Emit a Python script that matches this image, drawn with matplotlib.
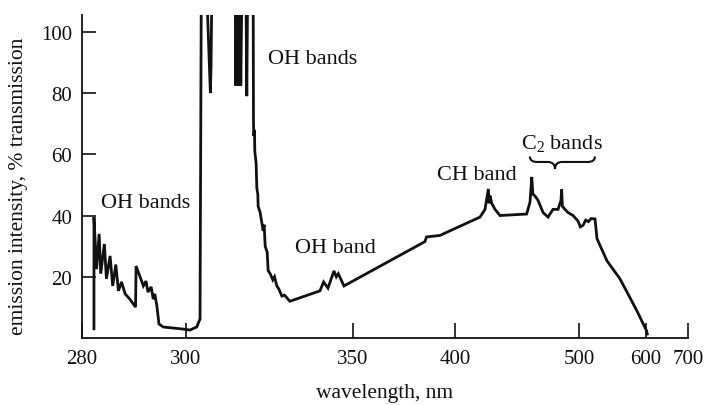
import numpy as np
import matplotlib
matplotlib.use("Agg")
import matplotlib.pyplot as plt
from matplotlib.path import Path
from matplotlib.patches import PathPatch

plt.rcParams['font.family'] = ['Liberation Serif', 'DejaVu Serif']
plt.rcParams['mathtext.fontset'] = 'custom'
plt.rcParams['mathtext.rm'] = 'Liberation Serif'
plt.rcParams['mathtext.it'] = 'Liberation Serif:italic'
plt.rcParams['mathtext.default'] = 'regular'

# ---- axis definition (non-linear wavelength axis of the original figure) ----
tick_nm = [280, 300, 350, 400, 500, 600, 700]
tick_labels = ['280', '300', '350', '400', '500', '600', '700']
axis_pos = [0, 104, 271, 373, 497, 564, 606]   # relative positions of the breakpoints
y_ticks = [20, 40, 60, 80, 100]
y_tick_labels = ['20', '40', '60', '80', '100']

# ---- spectrum trace (wavelength in nm, emission intensity / % transmission) ----
wavelength = [282.3, 282.3, 282.8, 283.3, 283.6, 284.3, 284.7, 285.4, 285.9, 286.5,
              287.0, 287.6, 288.3, 289.2, 290.3, 290.4, 291.1, 291.8, 292.3, 292.7,
              293.3, 293.7, 294.0, 294.4, 294.8, 295.6, 299.5, 301.2, 303.2, 304.2,
              304.6, 306.0, 307.0, 307.3, 307.5, 307.8, 314.7, 314.9, 315.3, 315.6,
              316.0, 316.4, 316.8, 317.9, 318.2, 318.5, 320.1, 320.2, 320.3, 320.5,
              320.6, 321.0, 321.2, 321.5, 321.6, 322.2, 322.8, 323.1, 323.4, 323.7,
              324.3, 324.6, 325.2, 326.0, 326.5, 327.2, 327.8, 328.7, 329.5, 331.1,
              340.1, 341.2, 342.5, 344.3, 345.0, 345.6, 347.3, 385.3, 386.0, 392.6,
              420.2, 424.2, 426.9, 427.5, 428.2, 429.6, 432.3, 436.3, 457.8, 460.5,
              461.9, 462.8, 464.5, 466.9, 471.0, 475.0, 479.0, 483.1, 485.5, 486.0,
              486.6, 488.7, 491.1, 495.2, 499.2, 502.0, 506.0, 510.0, 514.0, 518.0,
              523.9, 526.9, 541.8, 561.2, 573.1, 586.6, 601.5, 603.0]
intensity = [3.0, 39.5, 22.5, 34.0, 21.0, 30.7, 19.3, 26.8, 17.0, 24.0,
             15.4, 18.3, 14.4, 12.7, 10.1, 23.5, 20.3, 17.0, 18.6, 15.0,
             16.7, 12.7, 14.4, 10.5, 4.6, 3.6, 2.9, 2.6, 3.6, 6.2,
             120, 120, 89, 80, 89, 120, 120, 82.4, 120, 82.4,
             120, 82.4, 120, 120, 79, 120, 120, 71, 66, 68,
             61, 57, 49, 47, 43, 41, 37, 35, 37, 30,
             28, 22, 21, 19, 20, 17, 16, 13.7, 14, 12,
             15.4, 18.3, 16.3, 21.9, 20, 21, 17, 31.5, 33.0, 33.5,
             39.5, 42, 48.7, 44, 46.5, 44, 42, 40, 40.5, 44.4,
             52.6, 47, 46.4, 45, 41, 39.5, 42, 42, 45, 48.5,
             43, 42, 41, 40, 38.2, 36.3, 36.8, 38.5, 38.0, 39.0,
             38.9, 32.4, 25.2, 19.3, 14.4, 8.8, 2.3, 1.3]

# ---- annotations ----
labels = ['OH bands', 'OH bands', 'OH band', 'CH band', 'C$_2$ bands']
label_x = [292.3, 338.0, 344.6, 417.7, 486.3]
label_y = [44.4, 91.2, 29.4, 53.3, 64.0]


def fwd(x):
    return np.interp(x, tick_nm, axis_pos)


def inv(p):
    return np.interp(p, axis_pos, tick_nm)


fig = plt.figure(figsize=(7.05, 4.06), dpi=100)
ax = fig.add_axes([82 / 705, 67 / 406, 606 / 705, 323 / 406])
ax.set_xscale('function', functions=(fwd, inv))
ax.set_xlim(280, 700)
ax.set_ylim(0, 105.5)

ax.plot(wavelength, intensity, color='#111111', lw=2.0, solid_joinstyle='miter')

for s in ['top', 'right']:
    ax.spines[s].set_visible(False)
for s in ['left', 'bottom']:
    ax.spines[s].set_linewidth(1.3)
    ax.spines[s].set_color('#111111')

ax.set_xticks(tick_nm)
ax.set_xticklabels(tick_labels)
ax.set_yticks(y_ticks)
ax.set_yticklabels(y_tick_labels)
ax.minorticks_off()
ax.tick_params(axis='x', direction='in', length=11, width=1.2, pad=8,
               labelsize=15, colors='#111111')
ax.tick_params(axis='y', direction='in', length=10, width=1.2, pad=7,
               labelsize=15, colors='#111111')

ax.set_xlabel('wavelength, nm', fontsize=15.5, color='#111111', labelpad=11)
ax.set_ylabel('emission intensity, % transmission', fontsize=15.5, color='#111111')
ax.yaxis.set_label_coords(-0.089, 0.474)

for t, x, y in zip(labels, label_x, label_y):
    ax.text(x, y, t, fontsize=16, ha='center', va='center', color='#111111')

# brace under "C2 bands" (drawn in axes fraction)
x0, xm, x1 = 0.739, 0.7805, 0.8465
yt, ym, yb = 0.562, 0.545, 0.523
d = 0.012
verts = [(x0, yt), (x0, ym), (x0 + d, ym),
         (xm - d, ym), (xm, ym), (xm, yb),
         (xm, ym), (xm + d, ym),
         (x1 - d, ym), (x1, ym), (x1, yt)]
codes = [Path.MOVETO, Path.CURVE3, Path.CURVE3,
         Path.LINETO, Path.CURVE3, Path.CURVE3,
         Path.CURVE3, Path.CURVE3,
         Path.LINETO, Path.CURVE3, Path.CURVE3]
ax.add_patch(PathPatch(Path(verts, codes), transform=ax.transAxes, fill=False,
                       lw=1.5, edgecolor='#111111', clip_on=False))

fig.savefig('out.png', dpi=100)
